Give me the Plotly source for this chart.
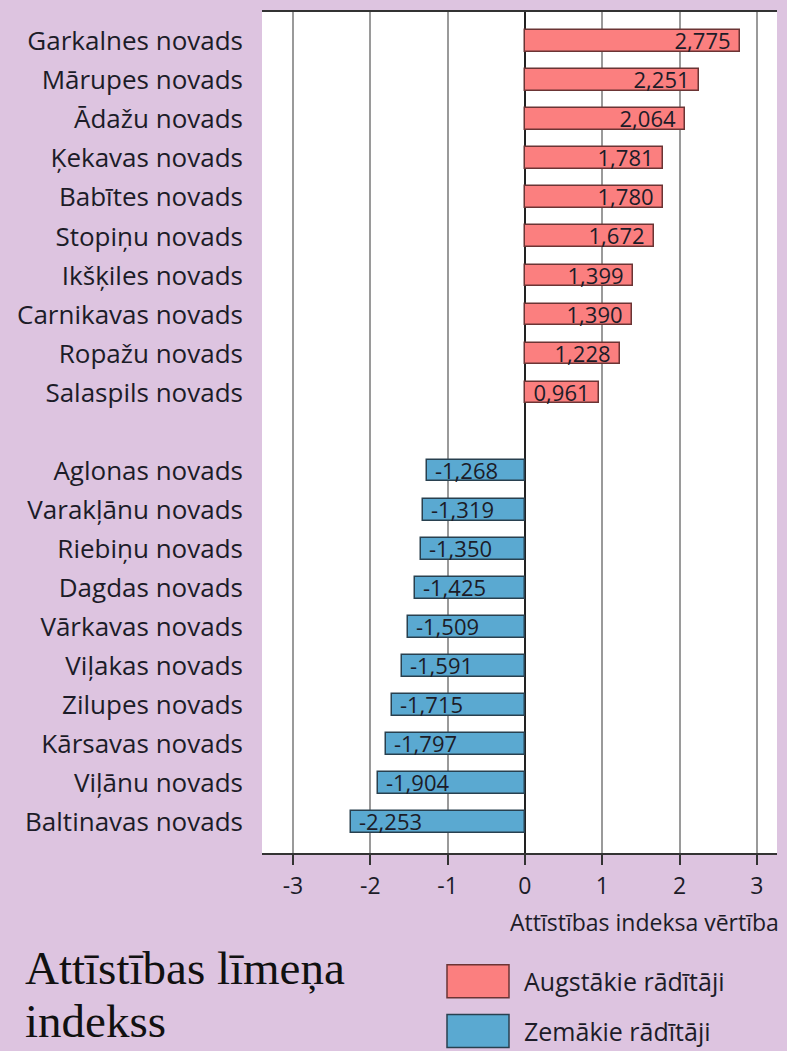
import plotly.graph_objects as go

# ---- data ----
high_names = ["Garkalnes novads", "Mārupes novads", "Ādažu novads", "Ķekavas novads",
              "Babītes novads", "Stopiņu novads", "Ikšķiles novads", "Carnikavas novads",
              "Ropažu novads", "Salaspils novads"]
high_values = [2.775, 2.251, 2.064, 1.781, 1.780, 1.672, 1.399, 1.390, 1.228, 0.961]

low_names = ["Aglonas novads", "Varakļānu novads", "Riebiņu novads", "Dagdas novads",
             "Vārkavas novads", "Viļakas novads", "Zilupes novads", "Kārsavas novads",
             "Viļānu novads", "Baltinavas novads"]
low_values = [-1.268, -1.319, -1.350, -1.425, -1.509, -1.591, -1.715, -1.797, -1.904, -2.253]

x_ticks = [-3, -2, -1, 0, 1, 2, 3]
legend_labels = ["Augstākie rādītāji", "Zemākie rādītāji"]
title_lines = ["Attīstības līmeņa", "indekss"]
axis_title = "Attīstības indeksa vērtība"

# ---- style ----
W, H = 787, 1051
L, R, T, B = 262, 10, 10, 198
BG = "#ddc4e0"
RED, RED_LINE = "#fb7f7f", "#6b3434"
BLUE, BLUE_LINE = "#5aa9d1", "#28404f"
TXT = "#1c1c28"
SANS = "Open Sans, Noto Sans, sans-serif"
NB = "\u00a0"

pw, ph = W - L - R, H - T - B


def px(xp):
    return (xp - L) / pw


def py(yp):
    return (H - B - yp) / ph


def fmt(v):
    return f"{v:.3f}".replace(".", ",")


high_pos = list(range(len(high_names)))
low_pos = [len(high_names) + 1 + i for i in range(len(low_names))]

fig = go.Figure()
fig.add_trace(go.Bar(
    x=high_values, y=high_pos, orientation="h", width=0.56,
    marker=dict(color=RED, line=dict(color=RED_LINE, width=1.5)),
    text=[fmt(v) + NB for v in high_values], textposition="inside",
    insidetextanchor="end", constraintext="none",
    textfont=dict(family=SANS, size=22, color=TXT),
    showlegend=False, hoverinfo="skip"))
fig.add_trace(go.Bar(
    x=low_values, y=low_pos, orientation="h", width=0.56,
    marker=dict(color=BLUE, line=dict(color=BLUE_LINE, width=1.5)),
    text=[NB + fmt(v) for v in low_values], textposition="inside",
    insidetextanchor="end", constraintext="none",
    textfont=dict(family=SANS, size=22, color=TXT),
    showlegend=False, hoverinfo="skip"))

fig.update_layout(
    width=W, height=H,
    margin=dict(l=L, r=R, t=T, b=B, pad=0),
    paper_bgcolor=BG, plot_bgcolor="white",
    bargap=0,
    xaxis=dict(range=[-3.40, 3.26], tickvals=x_ticks,
               ticktext=[str(t) for t in x_ticks],
               showgrid=True, gridcolor="#9a9a9a", gridwidth=1.5,
               zeroline=True, zerolinecolor="#222222", zerolinewidth=1.5,
               showline=True, linecolor="#333333", linewidth=1.5, mirror=True,
               ticks="outside", ticklen=10, tickwidth=1.5, tickcolor="#333333",
               tickfont=dict(family=SANS, size=23, color=TXT),
               ticklabelstandoff=2, fixedrange=True),
    yaxis=dict(range=[20.8, -0.75], tickvals=high_pos + low_pos,
               ticktext=high_names + low_names, showgrid=False,
               zeroline=False, showline=False, ticks="",
               tickfont=dict(family=SANS, size=26, color=TXT),
               ticklabelstandoff=18, fixedrange=True),
)

ann = [
    dict(text=axis_title, x=px(781), y=py(922), xref="paper", yref="paper",
         xanchor="right", yanchor="middle", showarrow=False,
         font=dict(family=SANS, size=23, color=TXT)),
]
for line, yc in zip(title_lines, [968, 1021]):
    ann.append(dict(text=line, x=px(23), y=py(yc), xref="paper", yref="paper",
                    xanchor="left", yanchor="middle", showarrow=False,
                    font=dict(family="Liberation Serif, DejaVu Serif, serif",
                              size=47, color="#111111")))

legend_items = [(legend_labels[0], RED, RED_LINE, 965, 998),
                (legend_labels[1], BLUE, BLUE_LINE, 1015, 1048)]
shapes = []
for lab, fill, line, y0, y1 in legend_items:
    shapes.append(dict(type="rect", xref="paper", yref="paper",
                       x0=px(447), x1=px(509), y0=py(y1), y1=py(y0),
                       fillcolor=fill, line=dict(color=line, width=1.5)))
    ann.append(dict(text=lab, x=px(522), y=py((y0 + y1) / 2), xref="paper", yref="paper",
                    xanchor="left", yanchor="middle", showarrow=False,
                    font=dict(family=SANS, size=25, color=TXT)))

fig.update_layout(annotations=ann, shapes=shapes)
fig.write_html("out.html", config={"displayModeBar": False},
               post_script="document.body.style.margin='0';document.body.style.overflow='hidden';")
